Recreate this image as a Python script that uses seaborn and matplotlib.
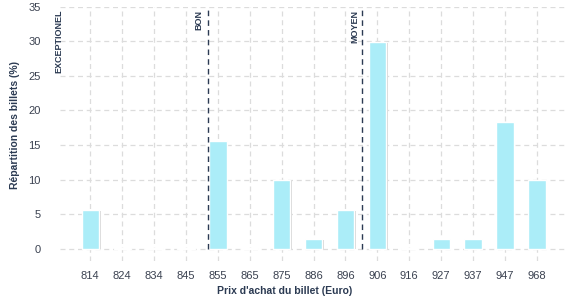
import matplotlib
matplotlib.use("Agg")
import matplotlib.pyplot as plt
import matplotlib.patheffects as pe
import seaborn as sns
import pandas as pd

prices = ["814", "824", "834", "845", "855", "865", "875", "886", "896",
          "906", "916", "927", "937", "947", "968"]
shares = [5.6, 0.1, 0.1, 0.1, 15.6, 0.1, 9.9, 1.4, 5.6,
          29.9, 0.1, 1.4, 1.4, 18.3, 9.9]
markers = ["EXCEPTIONEL", "BON", "MOYEN"]
marker_pos = [-1.05, 3.69, 8.52]
yticks = [0, 5, 10, 15, 20, 25, 30, 35]

sns.set_theme(style="white")
plt.rcParams["font.family"] = ["Liberation Sans", "DejaVu Sans"]

navy = "#2b3a52"
df = pd.DataFrame({"prix": prices, "part": shares})

fig = plt.figure(figsize=(5.77, 3.0), dpi=100)
ax = fig.add_axes([0.104, 0.13, 0.879, 0.847])

sns.barplot(data=df, x="prix", y="part", color="#abedf8", saturation=1,
            width=0.54, ax=ax, zorder=3)
for p in ax.patches:
    p.set_path_effects([pe.SimplePatchShadow(offset=(1.2, -0.6), shadow_rgbFace="#d6d6d6", alpha=1), pe.Normal()])

ymin = -1.8
ax.set_xlim(-0.95, 14.95)
ax.set_ylim(ymin, 35)
ax.set_yticks(yticks)
ax.grid(True, color="#dcdcdc", linestyle=(0, (4, 3)), linewidth=0.9, zorder=0)
for s in ax.spines.values():
    s.set_visible(False)
ax.tick_params(axis="both", length=0, labelsize=8, labelcolor="#3a4150")
ax.tick_params(axis="y", pad=14)
ax.tick_params(axis="x", pad=7)

text_dx = [1.5, -6.5, -5.5]
for name, xp, dx in zip(markers, marker_pos, text_dx):
    ax.axvline(xp, color=navy, linestyle=(0, (4, 3)), linewidth=1.0, zorder=4,
               ymin=-ymin / (35 - ymin), ymax=1)
    ax.annotate(name, xy=(xp, 34.6), xytext=(dx, 0), textcoords="offset points",
                rotation=90, ha="center", va="top", fontsize=6.5, fontweight="bold",
                color=navy, annotation_clip=False)

ax.set_xlabel("Prix d'achat du billet (Euro)", fontsize=7.5, fontweight="bold", color=navy)
ax.set_ylabel("Répartition des billets (%)", fontsize=7.5, fontweight="bold", color=navy)
ax.xaxis.set_label_coords(0.442, -0.1)
ax.yaxis.set_label_coords(-0.078, 0.537)

fig.savefig("out.png", dpi=100)
